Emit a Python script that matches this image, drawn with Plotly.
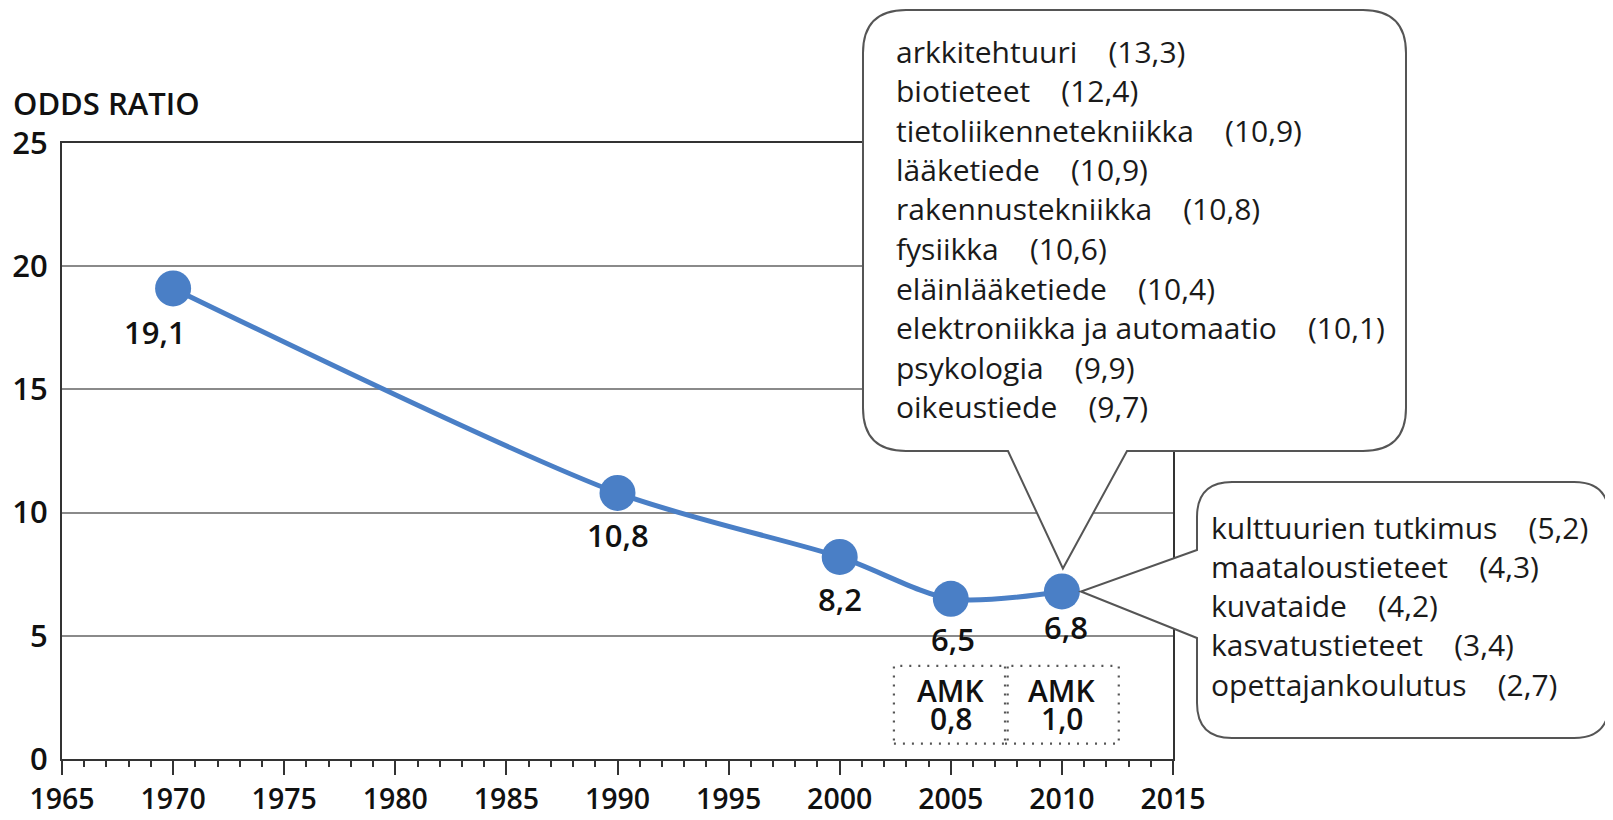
import plotly.graph_objects as go

# ---------------- data ----------------
years = [1970, 1990, 2000, 2005, 2010]
odds = [19.1, 10.8, 8.2, 6.5, 6.8]
amk_years = [2005, 2010]
amk_values = [0.8, 1.0]
high_fields = ["arkkitehtuuri", "biotieteet", "tietoliikennetekniikka", "lääketiede",
               "rakennustekniikka", "fysiikka", "eläinlääketiede",
               "elektroniikka ja automaatio", "psykologia", "oikeustiede"]
high_values = [13.3, 12.4, 10.9, 10.9, 10.8, 10.6, 10.4, 10.1, 9.9, 9.7]
low_fields = ["kulttuurien tutkimus", "maataloustieteet", "kuvataide",
              "kasvatustieteet", "opettajankoulutus"]
low_values = [5.2, 4.3, 4.2, 3.4, 2.7]
x_ticks = [1965, 1970, 1975, 1980, 1985, 1990, 1995, 2000, 2005, 2010, 2015]
y_ticks = [0, 5, 10, 15, 20, 25]

# ---------------- layout geometry (page pixels) ----------------
OFF = 8                      # default body margin of the html page
W, H = 1613 - OFF, 820 - OFF
L, R, T, B = 62, 1173, 143, 759
XR = [1965, 2015]
YR = [0, 25]
FONT = "Open Sans"
BLUE = "#4a7fc6"
DARK = "#1a1a1a"
BOLDISH = 600


def fi(v):
    return f"{v:.1f}".replace(".", ",")


def px2paper_x(xp):
    return (xp - L) / (R - L)


def px2paper_y(yp):
    return (B - yp) / (B - T)


def data2px_x(v):
    return L + (v - XR[0]) / (XR[1] - XR[0]) * (R - L)


def data2px_y(v):
    return B - (v - YR[0]) / (YR[1] - YR[0]) * (B - T)


def path_from_px(points_cmds):
    out = []
    for cmd, pts in points_cmds:
        coords = " ".join(f"{px2paper_x(x):.5f},{px2paper_y(y):.5f}" for x, y in pts)
        out.append(f"{cmd}{coords}")
    return " ".join(out) + " Z"


fig = go.Figure()

fig.add_trace(go.Scatter(
    x=years, y=odds, mode="lines+markers",
    line=dict(color=BLUE, width=5, shape="spline", smoothing=0.8),
    marker=dict(color=BLUE, size=36),
    hoverinfo="skip", showlegend=False,
))

annotations = []
# data labels
label_xshift = [-18, 0, 0, 2, 4]
label_yshift = [-44, -42, -42, -40, -36]
for x, y, dx, dy in zip(years, odds, label_xshift, label_yshift):
    annotations.append(dict(x=x, y=y, xref="x", yref="y", text=fi(y), showarrow=False,
                            xshift=dx, yshift=dy,
                            font=dict(family=FONT, size=31, color="#111", weight=BOLDISH)))

shapes = []
# AMK boxes
half_w = 2.56
for yr in amk_years:
    shapes.append(dict(type="rect", xref="x", yref="y", x0=yr - half_w, x1=yr + half_w,
                       y0=0.62, y1=3.78, line=dict(color="#555", width=2.2, dash="2px,7px"),
                       layer="above"))
for yr, v in zip(amk_years, amk_values):
    annotations.append(dict(x=yr, y=0, xref="x", yref="y", text="AMK", showarrow=False,
                            yshift=B - 690, yanchor="middle",
                            font=dict(family=FONT, size=30, color="#111", weight=BOLDISH)))
    annotations.append(dict(x=yr, y=0, xref="x", yref="y", text=fi(v), showarrow=False,
                            yshift=B - 718, yanchor="middle",
                            font=dict(family=FONT, size=30, color="#111", weight=BOLDISH)))

# Big callout (pixels)
tip_x = data2px_x(years[-1])
tip_y = data2px_y(odds[-1])
bx0, bx1, by0, by1, br = 863, 1406, 10, 451, 43
big_path = path_from_px([
    ("M", [(bx0 + br, by0)]),
    ("L", [(bx1 - br, by0)]),
    ("Q", [(bx1, by0), (bx1, by0 + br)]),
    ("L", [(bx1, by1 - br)]),
    ("Q", [(bx1, by1), (bx1 - br, by1)]),
    ("L", [(1127, by1)]),
    ("L", [(tip_x + 1, tip_y - 23)]),
    ("L", [(1008, by1)]),
    ("L", [(bx0 + br, by1)]),
    ("Q", [(bx0, by1), (bx0, by1 - br)]),
    ("L", [(bx0, by0 + br)]),
    ("Q", [(bx0, by0), (bx0 + br, by0)]),
])
shapes.append(dict(type="path", xref="paper", yref="paper", path=big_path,
                   fillcolor="white", line=dict(color="#555", width=2), layer="above"))

sx0, sx1, sy0, sy1, sr = 1197, 1609, 482, 738, 35
small_path = path_from_px([
    ("M", [(sx0 + sr, sy0)]),
    ("L", [(sx1 - sr, sy0)]),
    ("Q", [(sx1, sy0), (sx1, sy0 + sr)]),
    ("L", [(sx1, sy1 - sr)]),
    ("Q", [(sx1, sy1), (sx1 - sr, sy1)]),
    ("L", [(sx0 + sr, sy1)]),
    ("Q", [(sx0, sy1), (sx0, sy1 - sr)]),
    ("L", [(sx0, 638)]),
    ("L", [(tip_x + 19, tip_y)]),
    ("L", [(sx0, 550)]),
    ("L", [(sx0, sy0 + sr)]),
    ("Q", [(sx0, sy0), (sx0 + sr, sy0)]),
])
shapes.append(dict(type="path", xref="paper", yref="paper", path=small_path,
                   fillcolor="white", line=dict(color="#555", width=2), layer="above"))

GAP = "\u00a0\u00a0\u00a0\u00a0"
for i, (name, v) in enumerate(zip(high_fields, high_values)):
    yc = 51 + i * 39.5
    annotations.append(dict(x=px2paper_x(894), y=px2paper_y(yc), xref="paper", yref="paper",
                            xanchor="left", yanchor="middle", showarrow=False,
                            text=f"{name}{GAP}({fi(v)})",
                            font=dict(family=FONT, size=30, color=DARK)))
for i, (name, v) in enumerate(zip(low_fields, low_values)):
    yc = 527 + i * 39.3
    annotations.append(dict(x=px2paper_x(1209), y=px2paper_y(yc), xref="paper", yref="paper",
                            xanchor="left", yanchor="middle", showarrow=False,
                            text=f"{name}{GAP}({fi(v)})",
                            font=dict(family=FONT, size=30, color=DARK)))

# axis title
annotations.append(dict(x=px2paper_x(11), y=px2paper_y(103), xref="paper", yref="paper",
                        xanchor="left", yanchor="middle", showarrow=False, text="ODDS RATIO",
                        font=dict(family=FONT, size=31, color="#111", weight=BOLDISH)))

fig.update_layout(
    template="none",
    width=W, height=H,
    margin=dict(l=L - OFF, r=W - (R - OFF), t=T - OFF, b=H - (B - OFF), pad=0,
                autoexpand=False),
    paper_bgcolor="white", plot_bgcolor="white",
    shapes=shapes, annotations=annotations, showlegend=False,
    xaxis=dict(range=XR, tickmode="array", tickvals=x_ticks, ticktext=[str(t) for t in x_ticks],
               ticks="outside", ticklen=14, tickwidth=2, tickcolor="#333",
               minor=dict(dtick=1, tick0=1965, ticks="outside", ticklen=6, tickwidth=1.5,
                          tickcolor="#333", showgrid=False),
               showline=True, linecolor="#333", linewidth=2, mirror=True, automargin=False,
               showgrid=False, zeroline=False, ticklabelstandoff=0,
               tickfont=dict(family=FONT, size=28.5, color="#111", weight=BOLDISH)),
    yaxis=dict(range=YR, tickmode="array", tickvals=y_ticks, ticks="",
               showline=True, linecolor="#333", linewidth=2, mirror=True, automargin=False,
               showgrid=True, gridcolor="#8a8a8a", gridwidth=2, zeroline=False,
               ticklabelstandoff=6,
               tickfont=dict(family=FONT, size=31, color="#111", weight=BOLDISH)),
)

fig.write_html("out.html")
